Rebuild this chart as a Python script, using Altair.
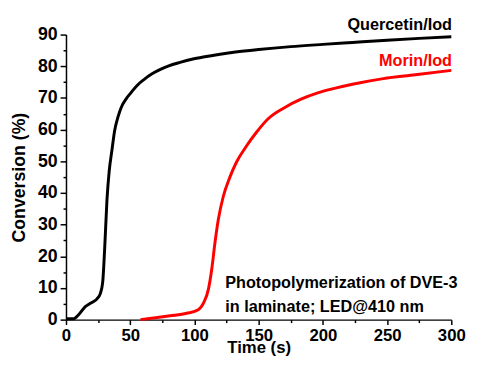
import altair as alt
import pandas as pd

# Quercetin/Iod (black)
q_time = [0, 6, 10, 15, 19, 24, 26.8, 28.6, 30.1, 31.9, 33.7, 35.7, 37.8, 40.5, 43, 47,
          50.5, 55, 60.7, 67, 73.5, 80, 88.8, 98, 108, 120, 132, 150, 175, 200, 223,
          250, 275, 300]
q_conv = [0.3, 0.3, 1.6, 4.1, 5.2, 6.5, 8.3, 11.9, 22.3, 37.8, 47.1, 53.3, 59.5, 64, 67,
          69.8, 71.6, 73.8, 75.8, 77.6, 79, 80.1, 81.2, 82.2, 83, 83.8, 84.5, 85.3, 86.2,
          86.9, 87.5, 88.2, 88.8, 89.3]

# Morin/Iod (red)
m_time = [58, 68, 81, 94, 103, 107, 111, 113.5, 116, 118.6, 122.4, 127.6, 132.7, 140,
          148, 157.6, 170.4, 183, 196, 209, 223, 247, 272, 300]
m_conv = [0, 0.5, 1.2, 2.0, 3.1, 5.2, 9.8, 16, 24.3, 31.6, 38.8, 45, 49.7, 54.5, 59,
          63.5, 67, 69.6, 71.6, 73, 74.3, 76.1, 77.3, 78.7]

# Annotations
lbl_text = ["Quercetin/Iod", "Morin/Iod"]
lbl_x = [300.5, 300.5]
lbl_y = [93.1, 81.7]
lbl_color = ["black", "red"]

note_text = ["Photopolymerization of DVE-3", "in laminate; LED@410 nm"]
note_x = [124.0, 124.0]
note_y = [11.65, 3.95]

x_major = list(range(0, 301, 50))
x_minor = list(range(25, 300, 50))
y_major = list(range(0, 91, 10))
y_minor = list(range(5, 90, 10))

df = pd.concat([
    pd.DataFrame({"t": q_time, "c": q_conv, "s": "Quercetin/Iod"}),
    pd.DataFrame({"t": m_time, "c": m_conv, "s": "Morin/Iod"}),
])
lbl = pd.DataFrame({"text": lbl_text, "t": lbl_x, "c": lbl_y, "col": lbl_color})
notes = pd.DataFrame({"text": note_text, "t": note_x, "c": note_y})

FONT = "Liberation Sans"

xscale = alt.Scale(domain=[0, 300], nice=False)
yscale = alt.Scale(domain=[0, 90], nice=False)

xaxis = alt.Axis(values=x_major, title="Time (s)", orient="bottom", tickSize=5,
                 labelPadding=3, titlePadding=-4, labelOverlap=False, grid=False,
                 labelFlush=False, labelFontSize=17, titleFontSize=17)
yaxis = alt.Axis(values=y_major, title="Conversion (%)", orient="left", tickSize=6,
                 labelPadding=3, titlePadding=9, labelOverlap=False, grid=False,
                 labelFontSize=18, titleFontSize=18)
xaxis_minor = alt.Axis(values=x_minor, title=None, labels=False, domain=False,
                       orient="bottom", tickSize=3, grid=False)
yaxis_minor = alt.Axis(values=y_minor, title=None, labels=False, domain=False,
                       orient="left", tickSize=3, grid=False)

lines = alt.Chart(df).mark_line(strokeWidth=3, interpolate="monotone").encode(
    x=alt.X("t:Q", scale=xscale, axis=xaxis),
    y=alt.Y("c:Q", scale=yscale, axis=yaxis),
    color=alt.Color("s:N", scale=alt.Scale(domain=["Quercetin/Iod", "Morin/Iod"],
                                           range=["black", "red"]), legend=None),
    detail="s:N",
)

labels = alt.Chart(lbl).mark_text(
    align="right", baseline="middle", font=FONT, fontSize=16.5, fontWeight="bold"
).encode(
    x=alt.X("t:Q", scale=xscale, axis=xaxis_minor),
    y=alt.Y("c:Q", scale=yscale, axis=yaxis_minor),
    text="text:N",
    color=alt.Color("col:N", scale=None),
)

note = alt.Chart(notes).mark_text(
    align="left", baseline="middle", font=FONT, fontSize=16.5, fontWeight="bold", color="black"
).encode(
    x=alt.X("t:Q", scale=xscale, axis=None),
    y=alt.Y("c:Q", scale=yscale, axis=None),
    text="text:N",
)

chart = alt.layer(lines, labels, note).resolve_axis(
    x="independent", y="independent"
).properties(
    width=392, height=290,
    autosize=alt.AutoSizeParams(type="none"),
    padding={"left": 59, "top": 24, "right": 18, "bottom": 37},
).configure_view(stroke=None).configure_axis(
    domainColor="black", domainWidth=1.5, tickColor="black", tickWidth=1.5,
    labelFont=FONT, labelFontWeight="bold", labelColor="black",
    titleFont=FONT, titleFontWeight="bold", titleColor="black",
)

chart.save("out.html", embed_options={"renderer": "svg", "actions": False})
